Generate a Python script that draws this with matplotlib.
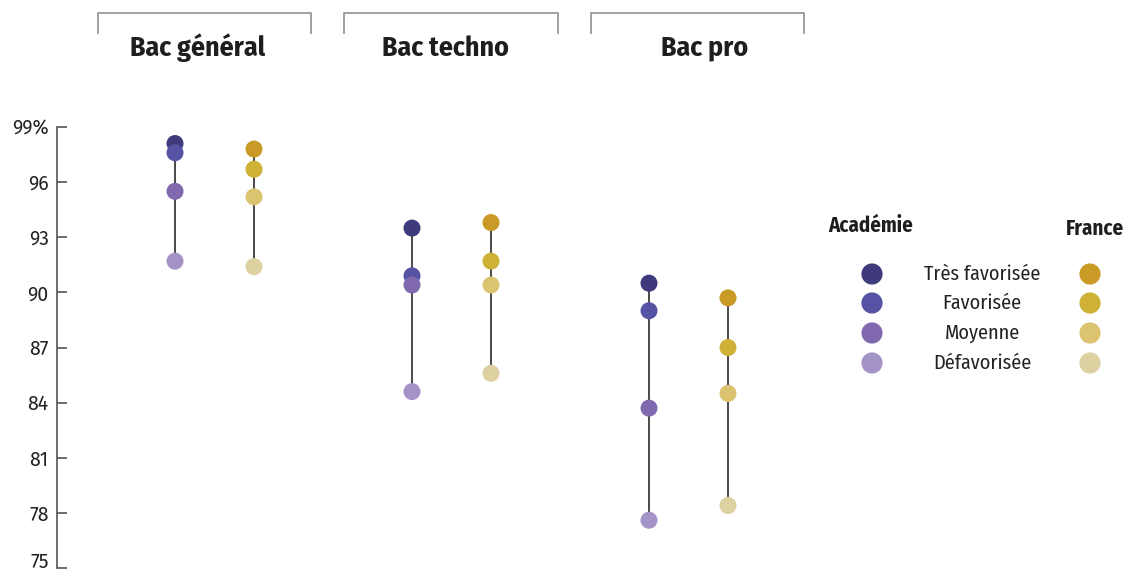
import matplotlib
matplotlib.use("Agg")
import matplotlib.pyplot as plt
from matplotlib.lines import Line2D

COND = ["Fira Sans Condensed", "DejaVu Sans"]
REG = ["Fira Sans", "DejaVu Sans"]
plt.rcParams["font.family"] = COND

groups = ["Bac général", "Bac techno", "Bac pro"]
levels = ["Très favorisée", "Favorisée", "Moyenne", "Défavorisée"]

academie = {
    "Bac général": [98.1, 97.6, 95.5, 91.7],
    "Bac techno": [93.5, 90.9, 90.4, 84.6],
    "Bac pro": [90.5, 89.0, 83.7, 77.6],
}
france = {
    "Bac général": [97.8, 96.7, 95.2, 91.4],
    "Bac techno": [93.8, 91.7, 90.4, 85.6],
    "Bac pro": [89.7, 87.0, 84.5, 78.4],
}

col_acad = ["#3f3a7c", "#5652a4", "#8169b0", "#a493c7"]
col_fr = ["#c99a25", "#cfb136", "#dcc36f", "#ddd1a1"]

yticks = [75, 78, 81, 84, 87, 90, 93, 96, 99]
ytick_labels = ["75", "78", "81", "84", "87", "90", "93", "96", "99%"]

W, H = 1126, 573
fig = plt.figure(figsize=(W / 100, H / 100), dpi=100)

left_px, right_px, top_px, bot_px = 57, 810, 127, 568
ax = fig.add_axes([left_px / W, (H - bot_px) / H, (right_px - left_px) / W, (bot_px - top_px) / H])
x0 = 175
unit = 79.0
ax.set_xlim((left_px - x0) / unit, (right_px - x0) / unit)
ax.set_ylim(75, 99)

ms = 150
for gi, g in enumerate(groups):
    for off, data, cols in ((0, academie[g], col_acad), (1, france[g], col_fr)):
        x = 3 * gi + off
        ax.plot([x, x], [min(data), max(data)], color="#3a3a3a", lw=1.3, zorder=1)
        for v, c in zip(data, cols):
            ax.scatter([x], [v], s=ms, color=c, zorder=3, clip_on=False, edgecolors="none")

for s in ["top", "right", "bottom"]:
    ax.spines[s].set_visible(False)
ax.spines["left"].set_color("#555555")
ax.spines["left"].set_linewidth(1.2)
ax.set_xticks([])
ax.set_yticks(yticks)
ax.set_yticklabels(ytick_labels, fontsize=14, color="#222222", family=REG)
ax.tick_params(axis="y", direction="in", length=7, width=1.2, color="#555555", pad=6)
for lbl in ax.get_yticklabels():
    if lbl.get_text() == "75":
        lbl.set_va("baseline")

# group headers with brackets
brackets = [(98, 311), (344, 558), (591, 804)]
title_x = [198, 445, 705]
fx = lambda p: p / W
fy = lambda p: (H - p) / H
for (a, b), tx, g in zip(brackets, title_x, groups):
    fig.add_artist(Line2D([fx(a), fx(a), fx(b), fx(b)], [fy(33), fy(13), fy(13), fy(33)],
                          color="#999999", lw=1.3))
    fig.text(fx(tx), fy(48), g, ha="center", va="center", fontsize=20,
             fontweight="bold", color="#1e1e1e")

# legend
fig.text(fx(828), fy(226), "Académie", ha="left", va="center", fontsize=15,
         fontweight="bold", color="#1e1e1e")
fig.text(fx(1124), fy(229), "France", ha="right", va="center", fontsize=15,
         fontweight="bold", color="#1e1e1e")
lax = fig.add_axes([0, 0, 1, 1], facecolor="none")
lax.set_xlim(0, W)
lax.set_ylim(H, 0)
lax.axis("off")
leg_y = [274, 303, 333, 363]
for yy, lab, ca, cf in zip(leg_y, levels, col_acad, col_fr):
    lax.scatter([872], [yy], s=ms * 1.55, color=ca, edgecolors="none")
    lax.scatter([1090], [yy], s=ms * 1.55, color=cf, edgecolors="none")
    lax.text(982, yy, lab, ha="center", va="center", fontsize=14.5, color="#222222")

fig.savefig("out.png", dpi=100)
